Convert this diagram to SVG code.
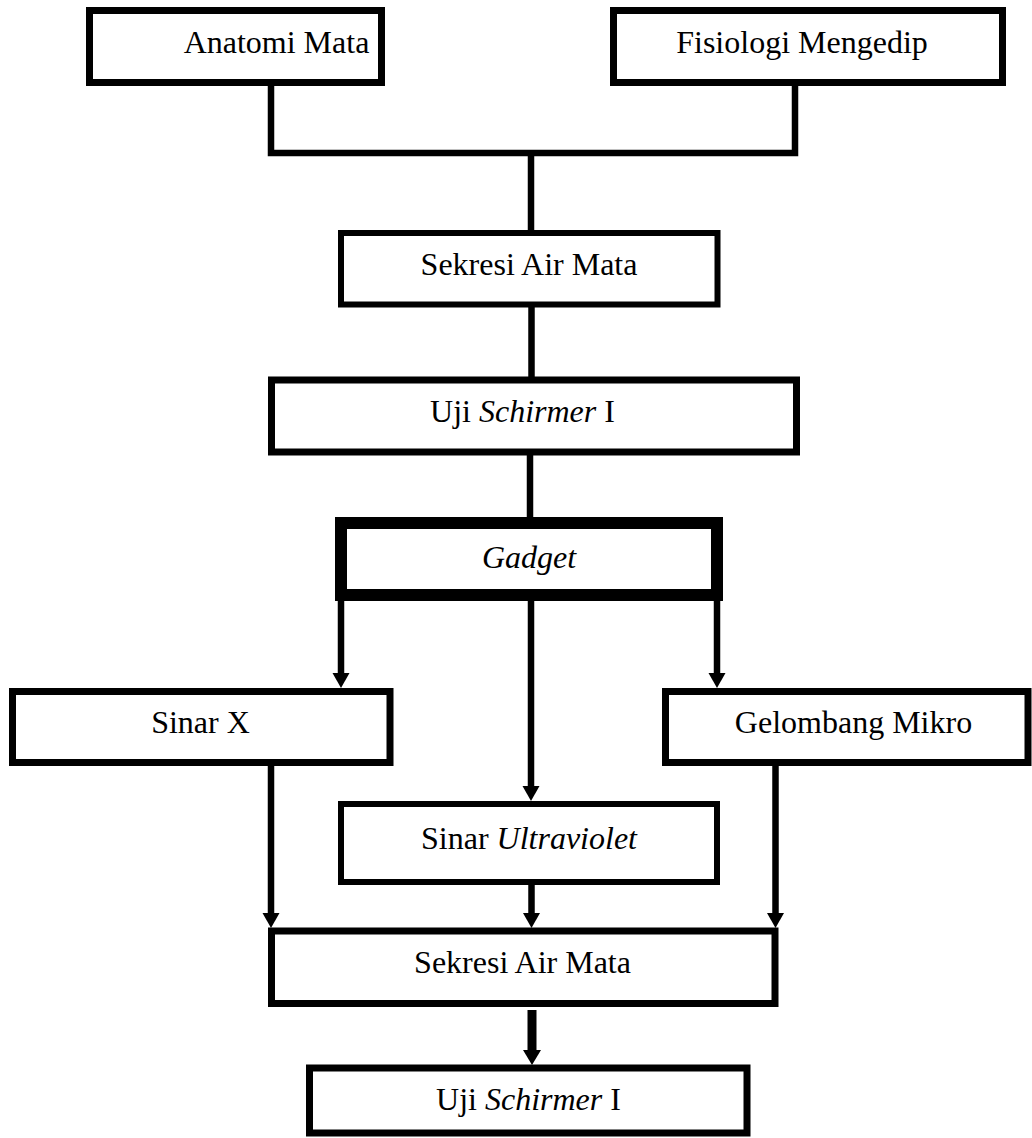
<svg xmlns="http://www.w3.org/2000/svg" width="1032" height="1138" viewBox="0 0 1032 1138">
<style>
.box{fill:#fff;stroke:#000;stroke-width:7}
.thick{stroke-width:12}
.lbl{font-family:"Liberation Serif","Times New Roman",serif;font-size:32px;fill:#000;text-anchor:middle}
.it{font-style:italic}
.ln{fill:none;stroke:#000;stroke-width:6.5}
.arr{fill:none;stroke:#000;stroke-width:6.5;marker-end:url(#ah)}
</style>
<defs>
<marker id="ah" markerUnits="userSpaceOnUse" markerWidth="16" markerHeight="18" refX="1" refY="8.5" orient="auto">
<path d="M0,0 L15,8.5 L0,17 z" fill="#000"/>
</marker>
<marker id="ah2" markerUnits="userSpaceOnUse" markerWidth="16" markerHeight="19" refX="1" refY="9" orient="auto">
<path d="M0,0 L15,9 L0,18 z" fill="#000"/>
</marker>
</defs>
<rect width="1032" height="1138" fill="#fff"/>
<g id="connectors">
<path class="ln" d="M271,82 V153 H795 V82"/>
<path class="ln" d="M531,153 V233"/>
<path class="ln" d="M531.5,304 V380"/>
<path class="ln" d="M530,452 V523"/>
<path class="arr" d="M341,595 V674"/>
<path class="arr" d="M531,595 V787"/>
<path class="arr" d="M717,595 V674"/>
<path class="arr" d="M271,762 V914"/>
<path class="arr" d="M531.5,882 V914"/>
<path class="arr" d="M775.5,762 V914"/>
<path d="M532,1010 V1051" fill="none" stroke="#000" stroke-width="9" marker-end="url(#ah2)"/>
</g>
<g id="anatomi">
<rect class="box" x="89.5" y="10.5" width="292" height="72"/>
<text class="lbl" x="276.5" y="53">Anatomi Mata</text>
</g>
<g id="fisiologi">
<rect class="box" x="613.5" y="10.5" width="389" height="72"/>
<text class="lbl" x="802" y="53">Fisiologi Mengedip</text>
</g>
<g id="sekresi1">
<rect class="box" x="341" y="233" width="376.5" height="71.5" style="stroke-width:6"/>
<text class="lbl" x="529" y="275">Sekresi Air Mata</text>
</g>
<g id="uji1">
<rect class="box" x="271.5" y="380" width="525" height="72"/>
<text class="lbl" x="522.5" y="421.5">Uji <tspan class="it">Schirmer</tspan> I</text>
</g>
<g id="gadget">
<rect class="box thick" x="341" y="523" width="376" height="72"/>
<text class="lbl it" x="529" y="568">Gadget</text>
</g>
<g id="sinarx">
<rect class="box" x="12.5" y="691.5" width="377.5" height="71"/>
<text class="lbl" x="200.5" y="733">Sinar X</text>
</g>
<g id="gelombang">
<rect class="box" x="665.5" y="691.5" width="362.5" height="71"/>
<text class="lbl" x="853.5" y="733">Gelombang Mikro</text>
</g>
<g id="ultraviolet">
<rect class="box" x="341" y="804" width="376" height="78" style="stroke-width:6"/>
<text class="lbl" x="529" y="849">Sinar <tspan class="it">Ultraviolet</tspan></text>
</g>
<g id="sekresi2">
<rect class="box" x="271.5" y="931" width="503.5" height="72.5"/>
<text class="lbl" x="522.5" y="973">Sekresi Air Mata</text>
</g>
<g id="uji2">
<rect class="box" x="309.5" y="1068" width="437.5" height="65"/>
<text class="lbl" x="528.5" y="1110">Uji <tspan class="it">Schirmer</tspan> I</text>
</g>
</svg>
